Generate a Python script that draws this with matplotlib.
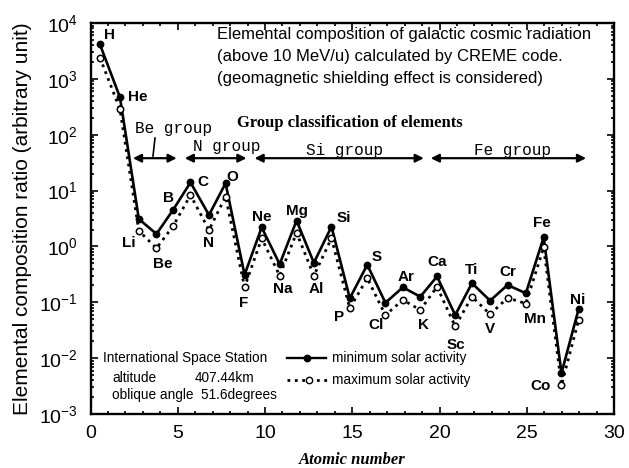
import matplotlib
matplotlib.use("Agg")
import matplotlib.pyplot as plt
from matplotlib.ticker import FixedLocator, MultipleLocator, LogLocator, NullFormatter

plt.rcParams["font.family"] = ["Liberation Sans", "DejaVu Sans"]
plt.rcParams["mathtext.fontset"] = "custom"
plt.rcParams["mathtext.rm"] = "Liberation Sans"
plt.rcParams["mathtext.it"] = "Liberation Sans:italic"

# ---- data -------------------------------------------------------------
elements = ["H", "He", "Li", "Be", "B", "C", "N", "O", "F", "Ne", "Na", "Mg",
            "Al", "Si", "P", "S", "Cl", "Ar", "K", "Ca", "Sc", "Ti", "V", "Cr",
            "Mn", "Fe", "Co", "Ni"]
atomic_pos = [0.54, 1.69, 2.77, 3.78, 4.73, 5.73, 6.79, 7.74, 8.83, 9.81,
              10.84, 11.81, 12.80, 13.81, 14.86, 15.86, 16.90, 17.90, 18.90,
              19.86, 20.90, 21.86, 22.90, 23.90, 24.95, 25.97, 26.99, 27.97]
min_solar = [4150, 466, 3.1, 1.67, 4.5, 14, 3.65, 13.5, 0.31, 2.2, 0.48, 2.9,
             0.51, 2.26, 0.118, 0.47, 0.098, 0.185, 0.126, 0.29, 0.059, 0.22,
             0.107, 0.204, 0.145, 1.46, 0.0054, 0.075]
max_solar = [2400, 285, 1.9, 0.93, 2.3, 8.3, 1.97, 7.8, 0.186, 1.4, 0.30, 1.76,
             0.30, 1.4, 0.078, 0.27, 0.059, 0.11, 0.073, 0.19, 0.037, 0.126,
             0.061, 0.12, 0.095, 0.96, 0.0033, 0.048]

group_names = ["Be group", "N group", "Si group", "Fe group"]
group_spans = [(2.43, 4.94), (5.40, 8.94), (9.40, 19.1), (19.5, 28.4)]
x_ticks = [0, 5, 10, 15, 20, 25, 30]
y_decades = [-3, -2, -1, 0, 1, 2, 3, 4]

# label offsets (pixels) of each element name from its minimum-activity point
label_offsets = {
    "H": (10, 9), "He": (18, 0), "Li": (-10, -24), "Be": (6, -30),
    "B": (-5, 12), "C": (12, 0), "N": (0, -28), "O": (7, 6), "F": (-1, -28),
    "Ne": (0, 10), "Na": (3, -25), "Mg": (0, 10), "Al": (2, -26),
    "Si": (12, 9), "P": (-11, -19), "S": (9, 8), "Cl": (-9, -22),
    "Ar": (3, 10), "K": (3, -28), "Ca": (0, 14), "Sc": (1, -30),
    "Ti": (0, 13), "V": (0, -28), "Cr": (0, 13), "Mn": (9, -26),
    "Fe": (-2, 14), "Co": (-21, -13), "Ni": (-1, 9),
}

# ---- figure -----------------------------------------------------------
W, H = 629, 468
fig = plt.figure(figsize=(W / 100, H / 100), dpi=100)
ax = fig.add_axes([90.5 / W, 1 - 414 / H, 523.5 / W, 391 / H])

ax.plot(atomic_pos, min_solar, "-", color="black", lw=1.9,
        marker="o", ms=4.6, mfc="black", mec="black")
ax.plot(atomic_pos, max_solar, ":", color="black", lw=2.0,
        marker="o", ms=4.6, mfc="white", mec="black", mew=1.1)

ax.set_yscale("log")
ax.set_xlim(0, 30)
ax.set_ylim(1e-3, 1e4)

ax.xaxis.set_major_locator(FixedLocator(x_ticks))
ax.xaxis.set_minor_locator(MultipleLocator(1))
ax.yaxis.set_major_locator(FixedLocator([10.0 ** d for d in y_decades]))
ax.yaxis.set_minor_locator(LogLocator(base=10, subs=(2, 3, 4, 5, 6, 7, 8, 9)))
ax.yaxis.set_minor_formatter(NullFormatter())
ax.set_yticklabels([r"$\mathregular{10^{%d}}$" % d for d in y_decades])
ax.set_xticklabels([str(t) for t in x_ticks])

ax.tick_params(which="both", direction="in", top=True, right=True,
               labelsize=14, width=1.2)
ax.tick_params(axis="x", pad=8)
ax.tick_params(axis="y", pad=9)
ax.tick_params(which="major", length=5)
ax.tick_params(which="minor", length=2)
for sp in ax.spines.values():
    sp.set_linewidth(1.7)

ax.set_ylabel("Elemental composition ratio (arbitrary unit)", fontsize=15,
              labelpad=5)
ax.set_xlabel("Atomic number", fontsize=12, family="Liberation Serif",
              style="italic", weight="bold", labelpad=7)

# element names
for name, x, y in zip(elements, atomic_pos, min_solar):
    dx, dy = label_offsets[name]
    ax.annotate(name, (x, y), xytext=(dx, dy), textcoords="offset pixels",
                ha="center", va="center", fontsize=11, weight="bold")

# group arrows
arrow_y = 38
for name, (x0, x1) in zip(group_names, group_spans):
    ax.annotate("", xy=(x0, arrow_y), xytext=(x1, arrow_y),
                arrowprops=dict(arrowstyle="<|-|>", color="black", lw=1.6,
                                mutation_scale=12, shrinkA=0, shrinkB=0))

fig.text(173 / W, 1 - 129 / H, group_names[0], family="Liberation Mono",
         fontsize=11.5, ha="center", va="center")
fig.text(227 / W, 1 - 147 / H, group_names[1], family="Liberation Mono",
         fontsize=11.5, ha="center", va="center")
fig.text(344 / W, 1 - 151 / H, group_names[2], family="Liberation Mono",
         fontsize=11.5, ha="center", va="center")
fig.text(513 / W, 1 - 151 / H, group_names[3], family="Liberation Mono",
         fontsize=11.5, ha="center", va="center")
fig.add_artist(plt.Line2D([155 / W, 153 / W], [1 - 138 / H, 1 - 156 / H],
                          color="black", lw=1.2))

fig.text(237 / W, 1 - 123 / H, "Group classification of elements",
         family="Liberation Serif", weight="bold", fontsize=12,
         ha="left", va="center")

# header text
for i, line in enumerate(["Elemental composition of galactic cosmic radiation",
                          "(above 10 MeV/u) calculated by CREME code.",
                          "(geomagnetic shielding effect is considered)"]):
    fig.text(217 / W, 1 - (35 + 21.5 * i) / H, line, fontsize=12,
             ha="left", va="center")

# station info and legend
fs_info = 9.8
fig.text(103 / W, 1 - 358 / H, "International Space Station", fontsize=fs_info,
         ha="left", va="center")
fig.text(112 / W, 1 - 378 / H, "altitude", fontsize=fs_info, ha="left",
         va="center")
fig.text(195 / W, 1 - 378 / H, "407.44km", fontsize=fs_info, ha="left",
         va="center")
fig.text(112 / W, 1 - 395 / H, "oblique angle  51.6degrees", fontsize=fs_info,
         ha="left", va="center")

fig.add_artist(plt.Line2D([287 / W, 326 / W], [1 - 358 / H] * 2, color="black",
                          lw=1.7))
fig.add_artist(plt.Line2D([307 / W], [1 - 358 / H], color="black", marker="o",
                          ms=4.6))
fig.add_artist(plt.Line2D([287 / W, 330 / W], [1 - 380 / H] * 2, color="black",
                          lw=2.0, ls=":"))
fig.add_artist(plt.Line2D([309 / W], [1 - 380 / H], color="black", marker="o",
                          ms=4.6, mfc="white"))
fig.text(332 / W, 1 - 358 / H, "minimum solar activity", fontsize=fs_info,
         ha="left", va="center")
fig.text(332 / W, 1 - 380 / H, "maximum solar activity", fontsize=fs_info,
         ha="left", va="center")

fig.savefig("out.png", dpi=100)
